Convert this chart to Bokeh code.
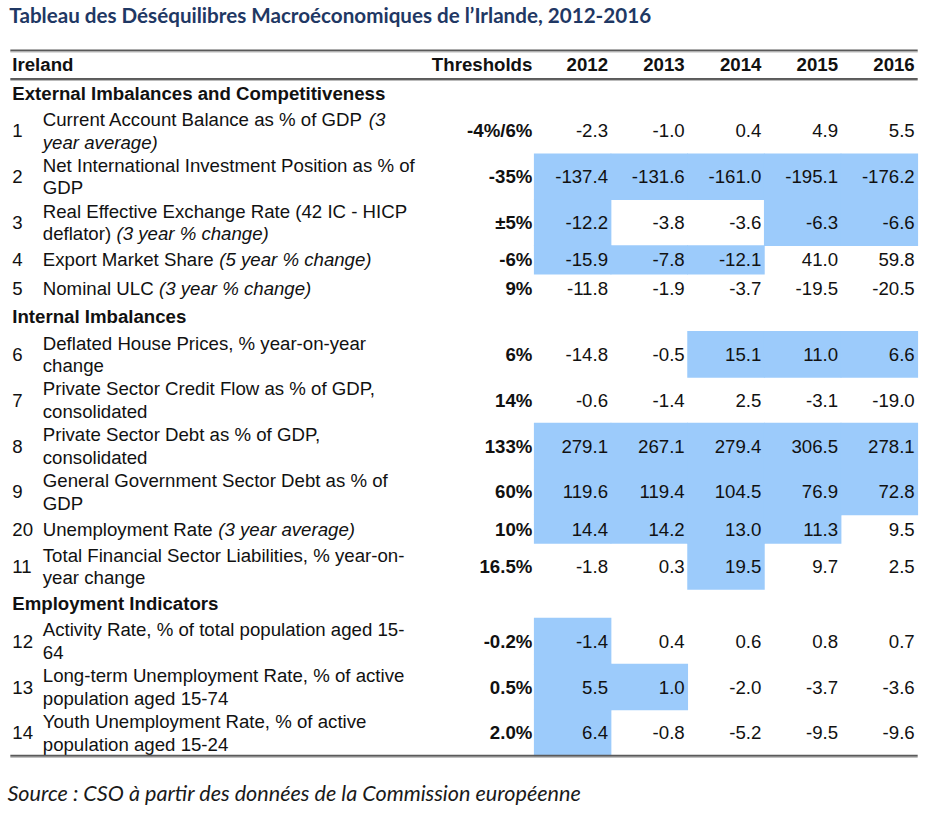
from bokeh.plotting import figure
from bokeh.models import Range1d
from bokeh.core.properties import value
from bokeh.embed import file_html
from bokeh.resources import INLINE

# ---------------- data ----------------
title_text = "Tableau des Déséquilibres Macroéconomiques de l’Irlande, 2012-2016"
source_text = "Source : CSO à partir des données de la Commission européenne"
header_first = "Ireland"
header_thr = "Thresholds"
years = ["2012", "2013", "2014", "2015", "2016"]
sections = ["External Imbalances and Competitiveness", "Internal Imbalances", "Employment Indicators"]
row_section = [0, 0, 0, 0, 0, 1, 1, 1, 1, 1, 1, 2, 2, 2]
row_ids = ["1", "2", "3", "4", "5", "6", "7", "8", "9", "20", "11", "12", "13", "14"]
# each label: list of lines, each line: list of (text, italic)
labels = [
    [[("Current Account Balance as % of GDP ", False), ("(3", True)], [("year average)", True)]],
    [[("Net International Investment Position as % of", False)], [("GDP", False)]],
    [[("Real Effective Exchange Rate (42 IC - HICP", False)], [("deflator) ", False), ("(3 year % change)", True)]],
    [[("Export Market Share ", False), ("(5 year % change)", True)]],
    [[("Nominal ULC ", False), ("(3 year % change)", True)]],
    [[("Deflated House Prices, % year-on-year", False)], [("change", False)]],
    [[("Private Sector Credit Flow as % of GDP,", False)], [("consolidated", False)]],
    [[("Private Sector Debt as % of GDP,", False)], [("consolidated", False)]],
    [[("General Government Sector Debt as % of", False)], [("GDP", False)]],
    [[("Unemployment Rate ", False), ("(3 year average)", True)]],
    [[("Total Financial Sector Liabilities, % year-on-", False)], [("year change", False)]],
    [[("Activity Rate, % of total population aged 15-", False)], [("64", False)]],
    [[("Long-term Unemployment Rate, % of active", False)], [("population aged 15-74", False)]],
    [[("Youth Unemployment Rate, % of active", False)], [("population aged 15-24", False)]],
]
thresholds = ["-4%/6%", "-35%", "±5%", "-6%", "9%", "6%", "14%", "133%", "60%", "10%", "16.5%", "-0.2%", "0.5%", "2.0%"]
v2012 = [-2.3, -137.4, -12.2, -15.9, -11.8, -14.8, -0.6, 279.1, 119.6, 14.4, -1.8, -1.4, 5.5, 6.4]
v2013 = [-1.0, -131.6, -3.8, -7.8, -1.9, -0.5, -1.4, 267.1, 119.4, 14.2, 0.3, 0.4, 1.0, -0.8]
v2014 = [0.4, -161.0, -3.6, -12.1, -3.7, 15.1, 2.5, 279.4, 104.5, 13.0, 19.5, 0.6, -2.0, -5.2]
v2015 = [4.9, -195.1, -6.3, 41.0, -19.5, 11.0, -3.1, 306.5, 76.9, 11.3, 9.7, 0.8, -3.7, -9.5]
v2016 = [5.5, -176.2, -6.6, 59.8, -20.5, 6.6, -19.0, 278.1, 72.8, 9.5, 2.5, 0.7, -3.6, -9.6]
# highlighted (threshold breached) cells
f2012 = [0, 1, 1, 1, 0, 0, 0, 1, 1, 1, 0, 1, 1, 1]
f2013 = [0, 1, 0, 1, 0, 0, 0, 1, 1, 1, 0, 0, 1, 0]
f2014 = [0, 1, 0, 1, 0, 1, 0, 1, 1, 1, 1, 0, 0, 0]
f2015 = [0, 1, 1, 0, 0, 1, 0, 1, 1, 1, 0, 0, 0, 0]
f2016 = [0, 1, 1, 0, 0, 1, 0, 1, 1, 0, 0, 0, 0, 0]

values = [v2012, v2013, v2014, v2015, v2016]
flags = [f2012, f2013, f2014, f2015, f2016]

# ---------------- layout / style ----------------
W, H = 928, 809            # figure size in screen px
REF_W, REF_H = 944, 825    # layout designed in reference px, scaled to fit
SX = W / REF_W
SF = (W / REF_W + H / REF_H) / 2   # font scale
FONT = "Liberation Sans"
SIZE = 19
HL = "#9CCBFB"
TXT = "#111111"
LINE_C = "#5a5a5a"

ARIAL = {' ': 278, '!': 278, '%': 889, '(': 333, ')': 333, ',': 278, '-': 333, '.': 278, '/': 278,
         ':': 278, 'A': 667, 'B': 667, 'C': 722, 'D': 722, 'E': 667, 'F': 611, 'G': 778, 'H': 722,
         'I': 278, 'J': 500, 'K': 667, 'L': 556, 'M': 833, 'N': 722, 'O': 778, 'P': 667, 'Q': 778,
         'R': 722, 'S': 667, 'T': 611, 'U': 722, 'V': 667, 'W': 944, 'X': 667, 'Y': 667, 'Z': 611,
         'a': 556, 'b': 556, 'c': 500, 'd': 556, 'e': 556, 'f': 278, 'g': 556, 'h': 556, 'i': 222,
         'j': 222, 'k': 500, 'l': 222, 'm': 833, 'n': 556, 'o': 556, 'p': 556, 'q': 556, 'r': 333,
         's': 500, 't': 278, 'u': 556, 'v': 500, 'w': 722, 'x': 500, 'y': 500, 'z': 500}


def text_w(s, size):
    # width in reference units for nominal font size
    return sum(ARIAL.get(c, 556) for c in s) / 1000.0 * size


x_left, x_right = 10, 933
x_num, x_label, x_thr = 12, 43, 541
col_edges = [543, 621, 699, 777, 855, 933]
y_top_line, y_head, y_head_line = 51, 65.5, 80
SEC_H, ONE_H, TWO_H, LINE_SP = 29.5, 29.0, 46.8, 23.0

p = figure(width=W, height=H, output_backend="svg", toolbar_location=None,
           x_range=Range1d(0, REF_W), y_range=Range1d(REF_H, 0),
           min_border=0, outline_line_color=None)
p.axis.visible = False
p.grid.visible = False
p.background_fill_color = "white"
p.border_fill_color = "white"


def txt(x, y, s, align="left", bold=False, italic=False, size=SIZE, font=FONT, color=TXT):
    style = "bold italic" if (bold and italic) else ("bold" if bold else ("italic" if italic else "normal"))
    p.text(x=[x], y=[y], text=[s], text_align=align, text_baseline="middle",
           text_font=value(font), text_font_size=f"{size * SF:.2f}px", text_font_style=style,
           text_color=color)


# title & source
txt(9, 15, title_text, bold=True, size=21, font="Lato", color="#1F3864")
txt(7, 808, source_text, italic=True, size=22, font="Lato", color="#1a1a1a")

# header
txt(x_num, y_head, header_first, bold=True)
txt(x_thr, y_head, header_thr, align="right", bold=True)
for j, yr in enumerate(years):
    txt(col_edges[j + 1] - 3, y_head, yr, align="right", bold=True)

# rows
y = y_head_line
cur_sec = -1
hl_l, hl_r, hl_t, hl_b = [], [], [], []
row_items = []
for i in range(len(row_ids)):
    if row_section[i] != cur_sec:
        cur_sec = row_section[i]
        txt(x_num, y + SEC_H / 2, sections[cur_sec], bold=True)
        y += SEC_H
    nlines = len(labels[i])
    h = TWO_H if nlines > 1 else ONE_H
    yc = y + h / 2
    txt(x_num, yc, row_ids[i])
    for k, line in enumerate(labels[i]):
        ly = yc + (k - (nlines - 1) / 2) * LINE_SP
        xx = x_label
        for seg, it in line:
            txt(xx, ly, seg, italic=it)
            xx += text_w(seg, SIZE)
    txt(x_thr, yc, thresholds[i], align="right", bold=True)
    for j in range(5):
        if flags[j][i]:
            hl_l.append(col_edges[j] - 0.4)
            hl_r.append(col_edges[j + 1] + 0.4)
            hl_t.append(y - 0.4)
            hl_b.append(y + h + 0.4)
        row_items.append((col_edges[j + 1] - 3, yc, f"{values[j][i]:.1f}"))
    y += h
y_bottom = y

p.quad(left=hl_l, right=hl_r, top=hl_t, bottom=hl_b, fill_color=HL, line_color=None, level="underlay")
for (xx, yy, s) in row_items:
    txt(xx, yy, s, align="right")

# rules
for yy in (y_top_line, y_head_line, y_bottom):
    p.line(x=[x_left, x_right], y=[yy, yy], line_color=LINE_C, line_width=2)
    p.line(x=[x_left, x_right], y=[yy + 1.5, yy + 1.5], line_color="#b5b5b5", line_width=1)

open("out.html", "w").write(file_html(p, INLINE))
